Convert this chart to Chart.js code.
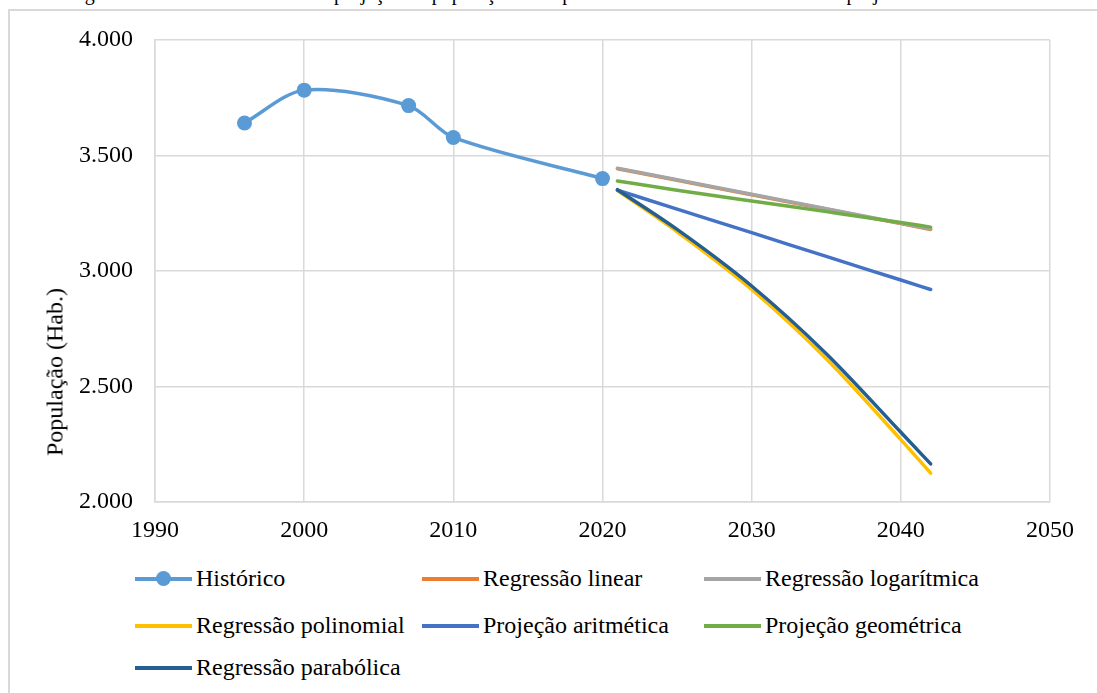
<html>
<head>
<meta charset="UTF-8" />
<script src="https://cdn.jsdelivr.net/npm/chart.js@4.4.1/dist/chart.umd.min.js"></script>
<style>
  body { margin: 0; width: 1097px; height: 693px; overflow: hidden; background: #fff; position: relative; font-family: "Liberation Serif", "Times New Roman", Times, serif; }
  #caption { position: absolute; left: 68px; top: -18px; font-size: 20px; white-space: nowrap; color: #000; }
  #frame { position: absolute; left: 8px; top: 9px; width: 1200px; height: 800px; border-top: 2px solid #d9d9d9; border-left: 2px solid #d9d9d9; }
  #wrap { position: absolute; left: 0; top: 0; width: 1097px; height: 550px; }
  #ytitle { position: absolute; left: 55px; top: 372px; font-size: 24px; white-space: nowrap; transform: translate(-50%, -50%) rotate(-90deg); }
  .leg { position: absolute; font-size: 24px; color: #000; white-space: nowrap; }
  .leg .ln { position: absolute; left: 0; top: 0; width: 57px; height: 3.5px; }
  .leg .dot { position: absolute; left: 21px; width: 15px; height: 15px; border-radius: 50%; }
  .leg .tx { position: absolute; left: 61px; line-height: 24px; }
</style>
</head>
<body>
<div id="caption">Figura 5 – Gráfico das curvas de projeção da população até o período de alcance do horizonte de projeto</div>
<div id="frame"></div>
<div id="wrap"><canvas id="myChart" width="1097" height="550"></canvas></div>
<div id="ytitle">População (Hab.)</div>
<div id="legend"></div>
<script>
// historical census data
const histYears = [1996, 2000, 2007, 2010, 2020];
const histPop = [3641, 3783, 3716, 3578, 3400];

// projections
const projYears = [2021, 2025, 2030, 2035, 2040, 2042];
const regLinear = [3443, 3393, 3330, 3268, 3205, 3180];
const regLog = [3445, 3395, 3332, 3270, 3207, 3182];
const regPolinomial = [3348, 3170, 2920, 2620, 2270, 2125];
const projAritmetica = [3350, 3268, 3166, 3063, 2961, 2920];
const projGeometrica = [3390, 3350, 3303, 3257, 3210, 3190];
const regParabolica = [3352, 3180, 2935, 2642, 2302, 2165];

const xTicks = [1990, 2000, 2010, 2020, 2030, 2040, 2050];
const yTicks = [2000, 2500, 3000, 3500, 4000];

const seriesNames = ["Histórico", "Regressão linear", "Regressão logarítmica", "Regressão polinomial", "Projeção aritmética", "Projeção geométrica", "Regressão parabólica"];
const seriesColors = ["#5B9BD5", "#ED7D31", "#A5A5A5", "#FFC000", "#4472C4", "#70AD47", "#255E91"];

function pts(xs, ys) { return xs.map((x, i) => ({ x: x, y: ys[i] })); }

const seriesData = [
  pts(histYears, histPop),
  pts(projYears, regLinear),
  pts(projYears, regLog),
  pts(projYears, regPolinomial),
  pts(projYears, projAritmetica),
  pts(projYears, projGeometrica),
  pts(projYears, regParabolica)
];

const datasets = seriesNames.map((name, i) => ({
  label: name,
  data: seriesData[i],
  borderColor: seriesColors[i],
  backgroundColor: seriesColors[i],
  borderWidth: 3.5,
  pointRadius: i === 0 ? 7.5 : 0,
  pointHoverRadius: i === 0 ? 7.5 : 0,
  pointBorderWidth: 0,
  tension: i === 0 ? 0.3 : 0.4,
  cubicInterpolationMode: i === 0 ? "default" : "monotone",
  order: seriesNames.length - i,
  borderCapStyle: "round"
}));

function fmt(v) { return String(v).replace(/\B(?=(\d{3})+(?!\d))/g, "."); }

const tickFont = { family: "'Liberation Serif', 'Times New Roman', Times, serif", size: 24 };

const chart = new Chart(document.getElementById("myChart").getContext("2d"), {
  type: "line",
  data: { datasets: datasets },
  options: {
    responsive: false,
    animation: false,
    maintainAspectRatio: false,
    layout: { padding: { left: 0, right: 47, top: 40, bottom: 0 } },
    scales: {
      x: {
        type: "linear",
        min: xTicks[0], max: xTicks[xTicks.length - 1],
        afterBuildTicks: s => { s.ticks = xTicks.map(v => ({ value: v })); },
        afterFit: s => { s.height = 48; },
        grid: { color: "#d9d9d9", lineWidth: 1.5, drawTicks: false },
        border: { color: "#d9d9d9", width: 1.5 },
        ticks: { font: tickFont, color: "#000", padding: 14, maxRotation: 0, callback: v => String(v) }
      },
      y: {
        min: yTicks[0], max: yTicks[yTicks.length - 1],
        afterBuildTicks: s => { s.ticks = yTicks.map(v => ({ value: v })); },
        afterFit: s => { s.width = 155; },
        grid: { color: "#d9d9d9", lineWidth: 1.5, drawTicks: false },
        border: { color: "#d9d9d9", width: 1.5 },
        ticks: { font: tickFont, color: "#000", padding: 22, callback: v => fmt(v) }
      }
    },
    plugins: {
      legend: { display: false },
      tooltip: { enabled: false }
    }
  }
});

// legend in three columns, like the original figure
const legCols = [135, 422, 704];
const legRows = [566, 613, 655];
const legend = document.getElementById("legend");
seriesNames.forEach((name, i) => {
  const el = document.createElement("div");
  el.className = "leg";
  el.style.left = legCols[i % 3] + "px";
  el.style.top = legRows[Math.floor(i / 3)] + "px";
  let html = '<div class="ln" style="top:11px;background:' + seriesColors[i] + '"></div>';
  if (i === 0) html += '<div class="dot" style="top:5px;background:' + seriesColors[i] + '"></div>';
  html += '<div class="tx">' + name + '</div>';
  el.innerHTML = html;
  legend.appendChild(el);
});
</script>
</body>
</html>
